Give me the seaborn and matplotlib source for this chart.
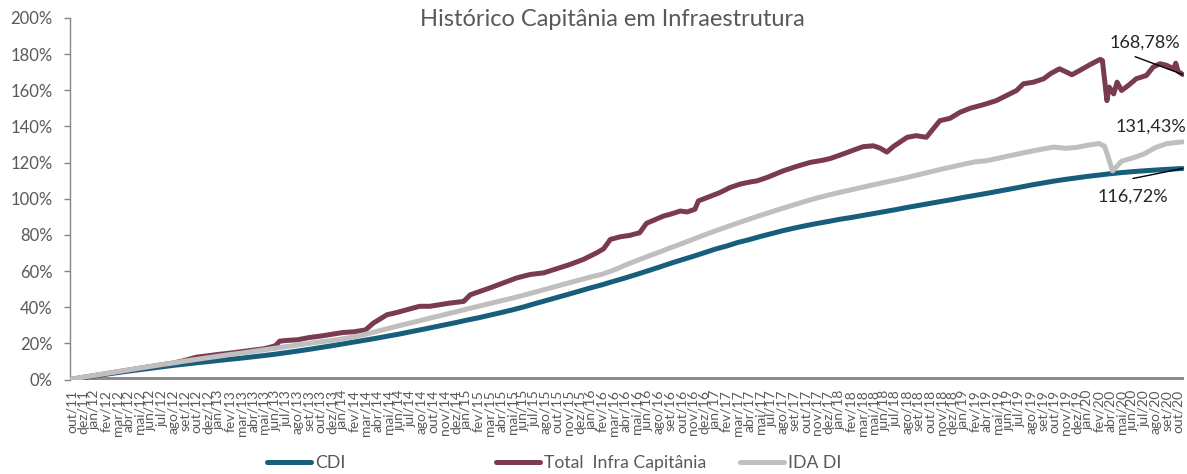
"""
Histórico Capitânia em Infraestrutura: retorno acumulado do fundo
comparado com CDI e IDA DI (out/11 a out/20).
"""

import seaborn as sns
from matplotlib import pyplot as plt
from matplotlib.lines import Line2D
from matplotlib.ticker import FuncFormatter

# rótulos do eixo x (um a cada ~23 dias úteis, como no gráfico original)
rotulos = [
    "out/11", "dez/11", "jan/12", "fev/12", "mar/12", "abr/12", "mai/12", "jun/12", "jul/12", "ago/12",
    "set/12", "out/12", "dez/12", "jan/13", "fev/13", "mar/13", "abr/13", "mai/13", "jun/13", "jul/13",
    "ago/13", "set/13", "out/13", "dez/13", "jan/14", "fev/14", "mar/14", "abr/14", "mai/14", "jun/14",
    "jul/14", "ago/14", "out/14", "nov/14", "dez/14", "jan/15", "fev/15", "mar/15", "abr/15", "mai/15",
    "jun/15", "jul/15", "ago/15", "out/15", "nov/15", "dez/15", "jan/16", "fev/16", "mar/16", "abr/16",
    "mai/16", "jun/16", "ago/16", "set/16", "out/16", "nov/16", "dez/16", "jan/17", "fev/17", "mar/17",
    "abr/17", "mai/17", "jul/17", "ago/17", "set/17", "out/17", "nov/17", "dez/17", "jan/18", "fev/18",
    "mar/18", "mai/18", "jun/18", "jul/18", "ago/18", "set/18", "out/18", "nov/18", "dez/18", "jan/19",
    "fev/19", "abr/19", "mai/19", "jun/19", "jul/19", "ago/19", "set/19", "out/19", "nov/19", "dez/19",
    "jan/20", "fev/20", "abr/20", "mai/20", "jun/20", "jul/20", "ago/20", "set/20", "out/20",
]

# CDI acumulado (%), uma leitura por rótulo + último dia
cdi_pos = list(range(99)) + [98.4]
cdi = [
    0.00, 0.95, 1.95, 2.90, 3.78, 4.64, 5.46, 6.24, 7.04, 7.84,
    8.50, 9.22, 9.86, 10.54, 11.20, 11.83, 12.53, 13.25, 14.00, 14.87,
    15.75, 16.67, 17.67, 18.64, 19.69, 20.76, 21.79, 22.86, 24.02, 25.14,
    26.43, 27.64, 28.92, 30.20, 31.48, 32.86, 34.12, 35.56, 37.00, 38.48,
    40.12, 41.93, 43.67, 45.43, 47.17, 48.98, 50.77, 52.46, 54.35, 56.16,
    58.08, 60.08, 62.09, 64.19, 66.15, 68.06, 70.08, 72.14, 73.84, 75.82,
    77.38, 79.14, 80.74, 82.35, 83.79, 85.09, 86.30, 87.42, 88.61, 89.58,
    90.69, 91.78, 92.88, 94.00, 95.19, 96.29, 97.40, 98.50, 99.57, 100.75,
    101.83, 102.91, 104.07, 105.22, 106.40, 107.60, 108.68, 109.77, 110.69, 111.54,
    112.39, 113.10, 113.85, 114.47, 115.00, 115.46, 115.87, 116.25, 116.60, 116.72,
]

# IDA DI acumulado (%), com pontos extras na queda de mar/20
ida_pos = list(range(92)) + [91.5, 92.2] + list(range(93, 99)) + [98.4]
ida = [
    0.3, 1.3, 2.3, 3.3, 4.3, 5.3, 6.3, 7.3, 8.3, 9.2,
    10.2, 11.1, 12.0, 12.9, 13.8, 14.6, 15.5, 16.4, 17.3, 18.2,
    19.1, 20.0, 20.8, 21.6, 22.5, 23.6, 25.0, 26.6, 28.2, 29.8,
    31.3, 32.8, 34.4, 35.9, 37.4, 39.0, 40.5, 42.0, 43.5, 45.0,
    46.6, 48.3, 50.0, 51.7, 53.4, 55.1, 56.8, 58.3, 60.5, 63.2,
    65.7, 68.1, 70.4, 72.8, 75.1, 77.5, 79.9, 82.2, 84.4, 86.6,
    88.7, 90.8, 92.8, 94.8, 96.7, 98.6, 100.4, 102.0, 103.5, 104.9,
    106.3, 107.7, 109.1, 110.4, 111.8, 113.3, 114.8, 116.3, 117.7, 119.1,
    120.4, 121.0, 122.3, 123.7, 125.0, 126.3, 127.5, 128.6, 127.9, 128.4,
    129.6, 130.6,
    129.0, 115.4,
    120.8, 122.6, 124.8, 128.3, 130.5, 131.2,
    131.43,
]

# Total Infra Capitânia acumulado (%), leituras mais densas onde a série oscila
total_pos = [
    0, 1, 2, 3, 4, 5, 6, 7, 8, 9, 10, 11, 12, 13, 14, 15, 16, 17, 18, 18.4,
    19, 20, 21, 22, 23, 24, 25, 26, 26.7, 27.9, 28.8, 29.9, 30.8, 31.7, 32.6, 33.5,
    34.7, 35.3, 37.0, 38.2, 39.4, 40.6, 41.8, 42.9, 44.1, 45.3, 46.5, 47.1, 47.7, 48.6,
    49.4, 50.3, 50.9, 52.4, 53.0, 53.9, 54.5, 55.2, 55.5, 56.5, 57.4, 58.3, 59.2, 60.1,
    60.7, 61.6, 63.0, 64.2, 65.4, 66.6, 67.2, 68.3, 69.5, 70.1, 71.0, 71.6, 72.2, 72.8,
    73.4, 74.0, 74.8, 75.7, 76.3, 76.9, 77.8, 78.7, 79.6, 80.5, 81.0, 81.9, 82.8, 83.7,
    84.3, 85.2, 86.1, 86.7, 87.5, 88.6, 89.3, 90.2, 91.1, 91.3, 91.7, 91.9, 92.3, 92.6,
    93.0, 93.6, 94.3, 95.2, 95.8, 96.4, 97.0, 97.6, 97.8, 98.0, 98.4,
]
total = [
    0.2, 1.2, 2.2, 3.2, 4.2, 5.2, 6.2, 7.2, 8.2, 9.1, 10.6, 12.3, 13.1, 13.9, 14.6, 15.4, 16.2, 17.0, 18.6, 21.2,
    21.6, 22.0, 23.2, 24.0, 25.0, 26.0, 26.4, 27.4, 31.2, 35.8, 37.1, 39.0, 40.5, 40.5, 41.4, 42.3,
    43.2, 46.9, 50.6, 53.4, 56.2, 58.1, 59.0, 61.2, 63.6, 66.4, 70.1, 72.3, 77.5, 79.0,
    79.7, 81.2, 86.4, 90.4, 91.4, 93.2, 92.7, 94.2, 98.8, 101.2, 103.4, 106.2, 108.1, 109.3,
    109.9, 111.8, 115.4, 117.9, 120.1, 121.4, 122.3, 124.7, 127.5, 128.8, 129.3, 128.0, 125.8, 129.0,
    131.5, 134.0, 134.9, 134.0, 138.6, 143.2, 144.5, 147.9, 150.1, 151.6, 152.5, 154.3, 157.1, 159.9,
    163.6, 164.5, 166.4, 169.2, 171.9, 168.6, 171.0, 174.2, 177.1, 176.5, 154.3, 161.8, 158.0, 164.5,
    159.9, 162.7, 166.4, 168.2, 172.9, 174.7, 173.8, 171.9, 175.0, 170.5, 168.78,
]

COR_CDI = "#175E7D"
COR_TOTAL = "#7A3A52"
COR_IDA = "#BFBFBF"
COR_TEXTO = "#595959"
COR_ROTULO = "#262626"


def pct_br(valor: float) -> str:
    return f"{valor:.2f}%".replace(".", ",")


def grafico() -> None:
    sns.set_style("white")
    plt.rcParams["font.family"] = ["Lato", "DejaVu Sans"]

    fig = plt.figure(figsize=(11.87, 4.74), dpi=100)
    ax = fig.add_axes([70 / 1187, 1 - 379.5 / 474, 1114 / 1187, 361.5 / 474])

    ax.axhline(0, color="#8C8C8C", lw=4.3, zorder=1.5)

    estilo = dict(ax=ax, estimator=None, sort=False, linewidth=3.6, legend=False)
    sns.lineplot(x=cdi_pos, y=cdi, color=COR_CDI, zorder=2, **estilo)
    sns.lineplot(x=total_pos, y=total, color=COR_TOTAL, zorder=3, **estilo)
    sns.lineplot(x=ida_pos, y=ida, color=COR_IDA, zorder=4, **estilo)
    for linha in ax.lines:
        linha.set_solid_joinstyle("round")

    ax.set_xlim(-0.18, 98.53)
    ax.set_ylim(0, 200)
    ax.set_yticks(range(0, 201, 20))
    ax.yaxis.set_major_formatter(FuncFormatter(lambda v, _: f"{v:.0f}%"))
    ax.set_xticks(range(len(rotulos)))
    ax.set_xticklabels(rotulos, rotation=90)
    ax.set_xlabel("")
    ax.set_ylabel("")

    for lado in ["top", "right", "bottom"]:
        ax.spines[lado].set_visible(False)
    ax.spines["left"].set_color("#868686")
    ax.spines["left"].set_linewidth(1.0)
    ax.tick_params(axis="y", length=4, width=1, color="#868686", labelsize=12,
                   labelcolor=COR_TEXTO, pad=8.5, direction="out", left=True)
    ax.tick_params(axis="x", length=0, labelsize=10, labelcolor=COR_TEXTO, pad=7.5)

    fig.text(612 / 1187, 1 - 20 / 474, "Histórico Capitânia em Infraestrutura",
             ha="center", va="center", fontsize=17, color=COR_TEXTO)

    # rótulos de valor final, com linha-guia como no original
    ax.text(95.07, 186.4, pct_br(total[-1]), ha="center", va="center", fontsize=13, color=COR_ROTULO)
    ax.annotate("", xy=(total_pos[-1], total[-1]), xytext=(94.2, 178.6),
                arrowprops=dict(arrowstyle="-", color="black", lw=1, shrinkA=0, shrinkB=0))
    ax.text(95.6, 139.7, pct_br(ida[-1]), ha="center", va="center", fontsize=13, color=COR_ROTULO)
    ax.text(94.0, 101.4, pct_br(cdi[-1]), ha="center", va="center", fontsize=13, color=COR_ROTULO)
    ax.annotate("", xy=(cdi_pos[-1], cdi[-1]), xytext=(94.0, 111.2),
                arrowprops=dict(arrowstyle="-", color="black", lw=1, shrinkA=0, shrinkB=0))

    # legenda em três blocos, espaçados como no original
    entradas = [("CDI", COR_CDI, 267), ("Total  Infra Capitânia", COR_TOTAL, 496), ("IDA DI", COR_IDA, 740)]
    for nome, cor, x_px in entradas:
        fig.legend(handles=[Line2D([], [], color=cor, lw=3.6)], labels=[nome],
                   loc="center left", bbox_to_anchor=(x_px / 1187, 1 - 463 / 474),
                   frameon=False, fontsize=12.7, handlelength=2.5, handletextpad=0.2,
                   borderpad=0, borderaxespad=0, labelcolor=COR_TEXTO)

    fig.savefig("out.png", dpi=100)


if __name__ == "__main__":
    grafico()
